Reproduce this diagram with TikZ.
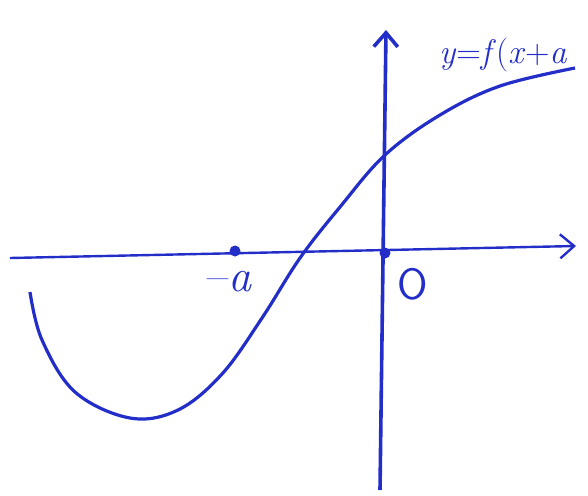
\documentclass[tikz,border=0pt]{standalone}
\usepackage{amsmath}
\usepackage{xcolor}
\usetikzlibrary{positioning}
\usetikzlibrary{arrows.meta}
\definecolor{inkblue}{RGB}{35,45,200}

\begin{document}
\begin{tikzpicture}[
            x=1pt, y=-1pt,
            every node/.style={text=inkblue, inner sep=1pt},
            axis style/.style={-{Straight Barb[length=14pt, width=24pt]}, inkblue, line width=2.4pt},
            curve style/.style={inkblue, line width=3.2pt},
            dot style/.style={circle, fill=inkblue, minimum size=11pt, inner sep=0pt}
        ]
        \useasboundingbox (0,0) rectangle (588,495);

        \coordinate (xl) at (10,258);
        \coordinate (xr) at (576,246);
        \coordinate (yb) at (380,490);
        \coordinate (yt) at (386,30);

        \draw[axis style] (xl) -- (xr);
        \draw[axis style, line width=3.6pt] (yb) -- (yt);

        \node[dot style] (origin) at (385,253) {};
        \node[dot style] (minusa) at (235,251) {};

        \node[font=\fontsize{46}{46}\selectfont] (lblA) at (230,282) {--\textit{a}};
        \node[font=\fontsize{44}{44}\selectfont\sffamily] (lblO) at (413,284) {O};
        \node[font=\fontsize{34}{34}\selectfont, anchor=west] (lblF) at (438,55)
            {\textit{y}=\textit{f}(\textit{x}+\textit{a}};

        \draw[curve style] plot[smooth, tension=0.6] coordinates {
            (30,292) (42,340) (75,392) (130,418) (178,410) (222,374)
            (262,318) (300,258) (340,207) (385,155) (440,115) (500,86) (575,68)};
        \end{tikzpicture}
\end{document}
